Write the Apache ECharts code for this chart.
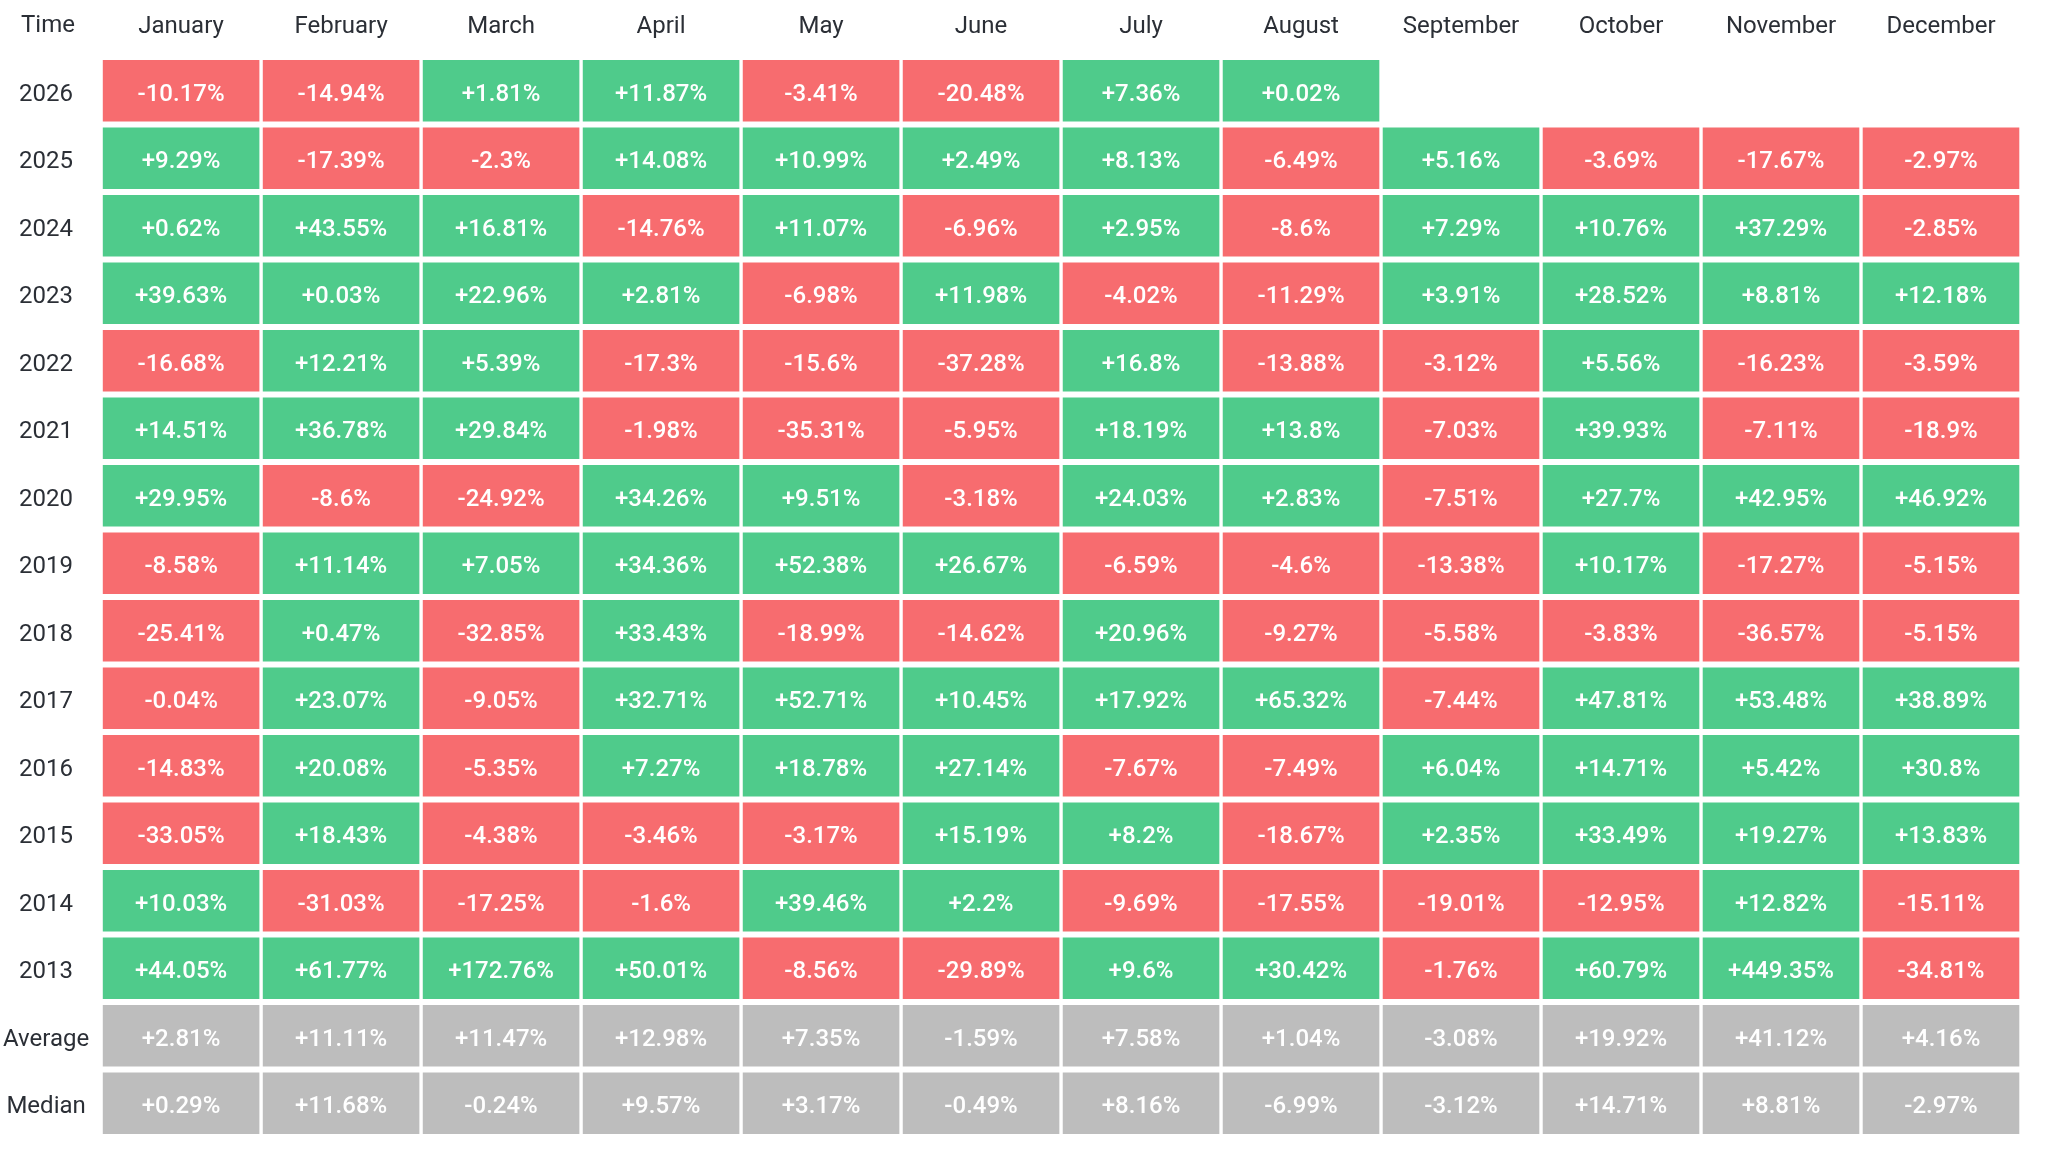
<!DOCTYPE html>
<html>
<head>
<meta charset="utf-8">
<title>Monthly returns</title>
<script src="https://cdn.jsdelivr.net/npm/echarts@6/dist/echarts.min.js"></script>
<style>
  html, body { margin: 0; padding: 0; background: #fff; }
  #chart-container { width: 2048px; height: 1149px; }
</style>
</head>
<body>
<div id="chart-container"></div>
<script>
// months along the top, row labels down the side
const months = ["January", "February", "March", "April", "May", "June",
  "July", "August", "September", "October", "November", "December"];
const years = ["2026", "2025", "2024", "2023", "2022", "2021", "2020",
  "2019", "2018", "2017", "2016", "2015", "2014", "2013"];

// monthly returns in %, one array per year (null = no data yet)
const yearReturns = [
  [-10.17, -14.94, 1.81, 11.87, -3.41, -20.48, 7.36, 0.02, null, null, null, null],
  [9.29, -17.39, -2.3, 14.08, 10.99, 2.49, 8.13, -6.49, 5.16, -3.69, -17.67, -2.97],
  [0.62, 43.55, 16.81, -14.76, 11.07, -6.96, 2.95, -8.6, 7.29, 10.76, 37.29, -2.85],
  [39.63, 0.03, 22.96, 2.81, -6.98, 11.98, -4.02, -11.29, 3.91, 28.52, 8.81, 12.18],
  [-16.68, 12.21, 5.39, -17.3, -15.6, -37.28, 16.8, -13.88, -3.12, 5.56, -16.23, -3.59],
  [14.51, 36.78, 29.84, -1.98, -35.31, -5.95, 18.19, 13.8, -7.03, 39.93, -7.11, -18.9],
  [29.95, -8.6, -24.92, 34.26, 9.51, -3.18, 24.03, 2.83, -7.51, 27.7, 42.95, 46.92],
  [-8.58, 11.14, 7.05, 34.36, 52.38, 26.67, -6.59, -4.6, -13.38, 10.17, -17.27, -5.15],
  [-25.41, 0.47, -32.85, 33.43, -18.99, -14.62, 20.96, -9.27, -5.58, -3.83, -36.57, -5.15],
  [-0.04, 23.07, -9.05, 32.71, 52.71, 10.45, 17.92, 65.32, -7.44, 47.81, 53.48, 38.89],
  [-14.83, 20.08, -5.35, 7.27, 18.78, 27.14, -7.67, -7.49, 6.04, 14.71, 5.42, 30.8],
  [-33.05, 18.43, -4.38, -3.46, -3.17, 15.19, 8.2, -18.67, 2.35, 33.49, 19.27, 13.83],
  [10.03, -31.03, -17.25, -1.6, 39.46, 2.2, -9.69, -17.55, -19.01, -12.95, 12.82, -15.11],
  [44.05, 61.77, 172.76, 50.01, -8.56, -29.89, 9.6, 30.42, -1.76, 60.79, 449.35, -34.81]
];
const average = [2.81, 11.11, 11.47, 12.98, 7.35, -1.59, 7.58, 1.04, -3.08, 19.92, 41.12, 4.16];
const median = [0.29, 11.68, -0.24, 9.57, 3.17, -0.49, 8.16, -6.99, -3.12, 14.71, 8.81, -2.97];

const rowLabels = years.concat(["Average", "Median"]);

const GREEN = "#4fcb8b";
const RED = "#f76c6f";
const GRAY = "#bdbdbd";
const TEXT = "#2b2f36";
const FONT = "Roboto, 'Noto Sans', sans-serif";

// [col, row, value, kind] kind 0 = year row, 1 = summary row
const cells = [];
yearReturns.forEach((row, r) => {
  row.forEach((v, c) => {
    if (v !== null) cells.push([c, r, v, 0]);
  });
});
[average, median].forEach((row, k) => {
  row.forEach((v, c) => cells.push([c, years.length + k, v, 1]));
});

const fmt = (v) => (v >= 0 ? "+" : "") + v + "%";

const dom = document.getElementById("chart-container");
const myChart = echarts.init(dom, null, { renderer: "canvas" });

const option = {
  animation: false,
  backgroundColor: "#fff",
  grid: { left: 101, right: 27, top: 57, bottom: 12 },
  graphic: [{
    type: "text",
    left: 21,
    top: 14,
    style: { text: "Time", fill: TEXT, font: "24px " + FONT }
  }],
  xAxis: {
    type: "category",
    position: "top",
    data: months,
    axisLine: { show: false },
    axisTick: { show: false },
    splitLine: { show: false },
    axisLabel: {
      color: TEXT, fontSize: 24, fontFamily: FONT,
      verticalAlign: "middle", margin: 30, interval: 0
    }
  },
  yAxis: {
    type: "category",
    inverse: true,
    data: rowLabels,
    axisLine: { show: false },
    axisTick: { show: false },
    splitLine: { show: false },
    axisLabel: {
      align: "center", margin: 55, interval: 0,
      formatter: "{v|{value}}",
      rich: {
        v: { color: TEXT, fontSize: 24, fontFamily: FONT, padding: [8, 0, 0, 0] }
      }
    }
  },
  series: [{
    type: "custom",
    data: cells,
    encode: { x: 0, y: 1 },
    renderItem: function (params, api) {
      const pt = api.coord([api.value(0), api.value(1)]);
      const size = api.size([1, 1]);
      const w = size[0] - 3.4;
      const h = size[1] - 5.8;
      const v = api.value(2);
      const fill = api.value(3) === 1 ? GRAY : (v >= 0 ? GREEN : RED);
      return {
        type: "rect",
        shape: { x: pt[0] - w / 2, y: pt[1] - h / 2, width: w, height: h },
        style: { fill: fill },
        textContent: {
          style: { text: fmt(v), fill: "#fff", font: "500 24px " + FONT }
        },
        textConfig: { position: "inside", offset: [0, 4] }
      };
    }
  }]
};

myChart.setOption(option);

window.addEventListener("resize", () => {
  myChart.resize();
});
</script>
</body>
</html>
